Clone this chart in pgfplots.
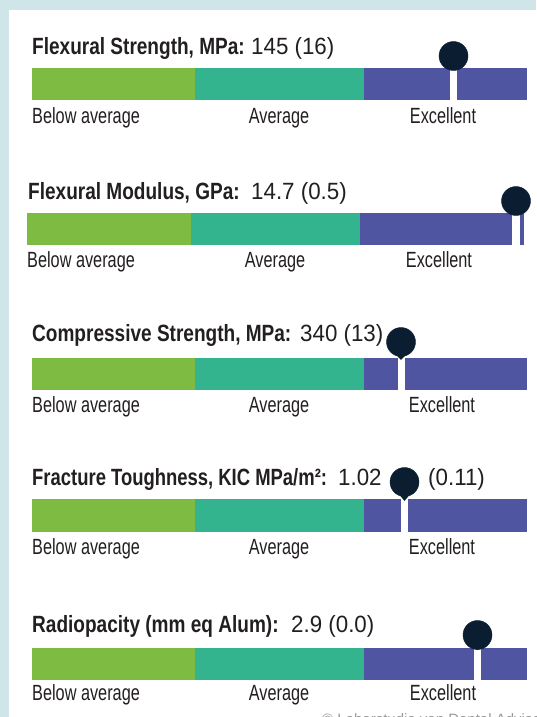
\documentclass[border=0pt]{standalone}
\usepackage{pgfplots}
\pgfplotsset{compat=1.18}
\usepackage{fontspec}
\setmainfont{Liberation Sans}
\newfontfamily\titlefont{Liberation Sans}[FakeStretch=0.81]
\newfontfamily\titlefontb{Liberation Sans}[FakeStretch=0.785]
\newfontfamily\valfont{Liberation Sans}[FakeStretch=0.95]
\newfontfamily\labelfont{Liberation Sans}[FakeStretch=0.74]
\definecolor{cG}{HTML}{7DBB42}
\definecolor{cT}{HTML}{34B38F}
\definecolor{cP}{HTML}{4F55A1}
\definecolor{cM}{HTML}{0B1E31}
\definecolor{cB}{HTML}{CFE5E8}
\definecolor{cTx}{HTML}{231F20}
\newcommand\seg[5]{\addplot[fill=#1,draw=none] coordinates {(#2,#4) (#3,#4) (#3,#5) (#2,#5)} -- cycle;}
\newcommand\pin[3]{\addplot[fill=cM,draw=none] coordinates {(#1-6.5,#2+11) (#1+6.5,#2+11) (#1,#3)} -- cycle;}
\newcommand\ttl{\fontsize{23.5}{26}\selectfont\titlefont\bfseries\color{cTx}}
\newcommand\ttlb{\fontsize{23.5}{26}\selectfont\titlefontb\bfseries\color{cTx}}
\newcommand\val{\fontsize{23.5}{26}\selectfont\valfont\color{cTx}}
\newcommand\lbl{\fontsize{22}{24}\selectfont\labelfont\color{cTx}}
\begin{document}
\begin{tikzpicture}
\begin{axis}[
  width=536pt, height=717pt, scale only axis,
  xmin=0, xmax=536, ymin=0, ymax=717, y dir=reverse,
  hide axis, clip=false,
]
% frame
\seg{cB}{0}{536}{0}{717}
\seg{white}{8.5}{536}{10}{717}
% bar 1
\seg{cG}{32}{194.5}{68}{100}
\seg{cT}{194.5}{363.5}{68}{100}
\seg{cP}{363.5}{450}{68}{100}
\seg{cP}{457}{527}{68}{100}
% bar 2
\seg{cG}{27}{190.5}{213}{245}
\seg{cT}{190.5}{359.5}{213}{245}
\seg{cP}{359.5}{512}{213}{245}
\seg{cP}{520}{524}{213}{245}
% bar 3
\seg{cG}{32}{194.5}{358}{390}
\seg{cT}{194.5}{363.5}{358}{390}
\seg{cP}{363.5}{397.5}{358}{390}
\seg{cP}{404.5}{527}{358}{390}
% bar 4
\seg{cG}{32}{194.5}{499}{532}
\seg{cT}{194.5}{363.5}{499}{532}
\seg{cP}{363.5}{401}{499}{532}
\seg{cP}{408}{527}{499}{532}
% bar 5
\seg{cG}{32}{194.5}{648}{680}
\seg{cT}{194.5}{363.5}{648}{680}
\seg{cP}{363.5}{474}{648}{680}
\seg{cP}{481}{527}{648}{680}
% markers
\pin{453.5}{56}{70}
\pin{516}{201}{215}
\pin{401}{342}{360}
\pin{404.5}{482}{501}
\pin{477.5}{635}{650}
\addplot[only marks, mark=*, mark size=14.5pt, color=cM] coordinates {(453.5,56) (516,201) (401,342) (404.5,482) (477.5,635)};
% titles
\node[anchor=base west, inner sep=0pt] at (axis cs:32,55) {\ttl Flexural Strength, MPa:};
\node[anchor=base west, inner sep=0pt] at (axis cs:251,55) {\val 145 (16)};
\node[anchor=base west, inner sep=0pt] at (axis cs:28,199) {\ttl Flexural Modulus, GPa:};
\node[anchor=base west, inner sep=0pt] at (axis cs:251,199) {\val 14.7 (0.5)};
\node[anchor=base west, inner sep=0pt] at (axis cs:32,341) {\ttl Compressive Strength, MPa:};
\node[anchor=base west, inner sep=0pt] at (axis cs:300,341) {\val 340 (13)};
\node[anchor=base west, inner sep=0pt] at (axis cs:32,485) {\ttlb Fracture Toughness, KIC MPa/m²:};
\node[anchor=base west, inner sep=0pt] at (axis cs:338,485) {\val 1.02};
\node[anchor=base west, inner sep=0pt] at (axis cs:428,485) {\val (0.11)};
\node[anchor=base west, inner sep=0pt] at (axis cs:32,632) {\ttl Radiopacity (mm eq Alum):};
\node[anchor=base west, inner sep=0pt] at (axis cs:291,632) {\val 2.9 (0.0)};
% labels
\node[anchor=base west, inner sep=0pt] at (axis cs:32,123) {\lbl Below average};
\node[anchor=base, inner sep=0pt] at (axis cs:279,123) {\lbl Average};
\node[anchor=base, inner sep=0pt] at (axis cs:443,123) {\lbl Excellent};
\node[anchor=base west, inner sep=0pt] at (axis cs:27,267) {\lbl Below average};
\node[anchor=base, inner sep=0pt] at (axis cs:275,267) {\lbl Average};
\node[anchor=base, inner sep=0pt] at (axis cs:439,267) {\lbl Excellent};
\node[anchor=base west, inner sep=0pt] at (axis cs:32,412) {\lbl Below average};
\node[anchor=base, inner sep=0pt] at (axis cs:279,412) {\lbl Average};
\node[anchor=base, inner sep=0pt] at (axis cs:442,412) {\lbl Excellent};
\node[anchor=base west, inner sep=0pt] at (axis cs:32,554) {\lbl Below average};
\node[anchor=base, inner sep=0pt] at (axis cs:279,554) {\lbl Average};
\node[anchor=base, inner sep=0pt] at (axis cs:442,554) {\lbl Excellent};
\node[anchor=base west, inner sep=0pt] at (axis cs:32,700) {\lbl Below average};
\node[anchor=base, inner sep=0pt] at (axis cs:279,700) {\lbl Average};
\node[anchor=base, inner sep=0pt] at (axis cs:443,700) {\lbl Excellent};
% copyright (cut off at the bottom edge, as in the reference)
\node[anchor=base west, inner sep=0pt] at (axis cs:322,724) {\fontsize{15}{18}\selectfont\color{black!40}© Laborstudie von Dental Advisor};
\end{axis}
\pgfresetboundingbox
\useasboundingbox (0,0) rectangle (536pt,717pt);
\end{tikzpicture}
\end{document}
